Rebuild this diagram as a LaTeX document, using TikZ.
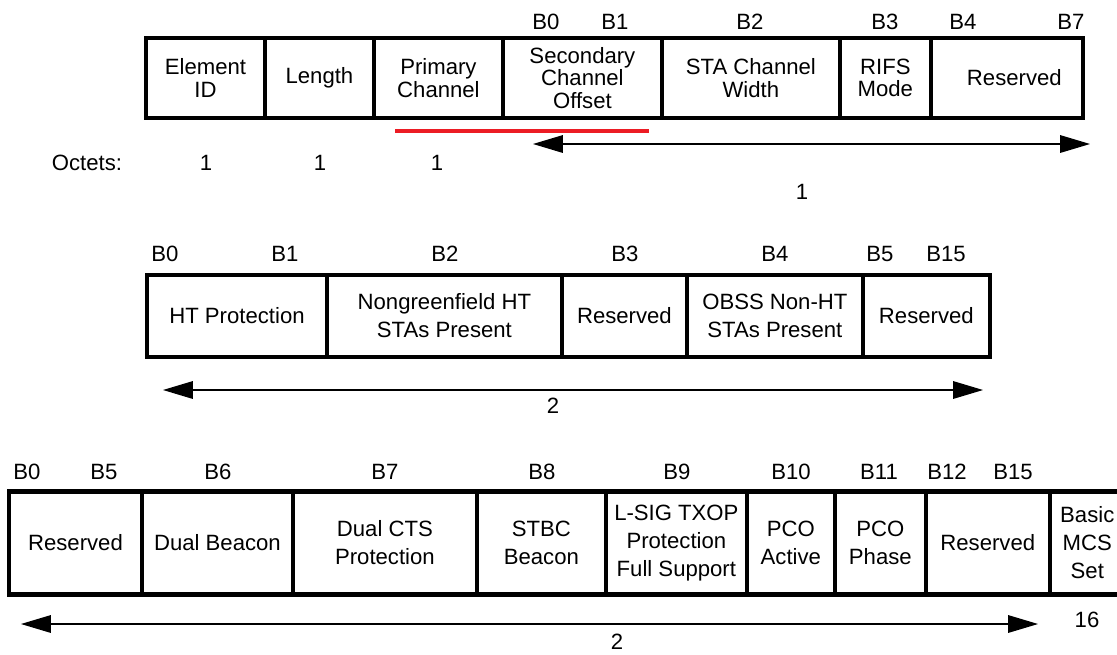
\documentclass[tikz,border=0pt]{standalone}
\usepackage{fontspec}
\setmainfont{Liberation Sans}
\usepackage{xcolor}
\usepackage{tikz}
\usetikzlibrary{positioning,arrows.meta}
\definecolor{markred}{RGB}{236,28,36}

\begin{document}
\begin{tikzpicture}[x=0.02cm, y=-0.02cm,
  every node/.style={font=\fontsize{12.6}{15.9}\selectfont},
  fld/.style={rectangle, draw=black, line width=2.4pt, outer sep=0pt,
              inner sep=1pt, align=center},
  rowone/.style={fld, minimum height=1.6cm, font=\fontsize{12.6}{12.7}\selectfont},
  rowtwo/.style={fld, minimum height=1.64cm},
  rowthree/.style={fld, minimum height=2.06cm},
  spanarrow/.style={{Triangle[length=17pt,width=10pt]}-{Triangle[length=17pt,width=10pt]},
                    line width=0.7pt}
]
  \clip (0,0) rectangle (1117,654);

  % HT Operation element
  \node[rowone, anchor=west, minimum width=2.38cm] (eid) at (146,78) {Element\\ID};
  \node[rowone, right=0pt of eid, minimum width=2.18cm] (len) {Length};
  \node[rowone, right=0pt of len, minimum width=2.58cm] (prim) {Primary\\Channel};
  \node[rowone, right=0pt of prim, minimum width=3.18cm] (sco) {Secondary\\Channel\\Offset};
  \node[rowone, right=0pt of sco, minimum width=3.56cm] (staw) {STA Channel\\Width};
  \node[rowone, right=0pt of staw, minimum width=1.82cm] (rifs) {RIFS\\Mode};
  \node[rowone, right=0pt of rifs, minimum width=3.04cm] (resa) {\hspace*{0.3cm}Reserved};

  \node (ab0) at (546,22) {B0};
  \node (ab1) at (615,22) {B1};
  \node (ab2) at (750,22) {B2};
  \node (ab3) at (885,22) {B3};
  \node (ab4) at (963,22) {B4};
  \node (ab7) at (1071,22) {B7};

  \node (oct) at (87,163) {Octets:};
  \node (octa) at (206,163) {1};
  \node (octb) at (320,163) {1};
  \node (octc) at (437,163) {1};
  \node (octd) at (802,192) {1};

  \coordinate (redl) at (395,131);
  \coordinate (redr) at (649,131);
  \draw[markred, line width=2.2pt] (redl) -- (redr);

  \coordinate (spal) at (533,144);
  \coordinate (spar) at (1090,144);
  \draw[spanarrow] (spal) -- (spar);

  % second row
  \node[rowtwo, anchor=west, minimum width=3.60cm] (htp) at (147,316) {HT Protection};
  \node[rowtwo, right=0pt of htp, minimum width=4.70cm] (ngf) {Nongreenfield HT\\STAs Present};
  \node[rowtwo, right=0pt of ngf, minimum width=2.50cm] (resb) {Reserved};
  \node[rowtwo, right=0pt of resb, minimum width=3.52cm] (obss) {OBSS Non-HT\\STAs Present};
  \node[rowtwo, right=0pt of obss, minimum width=2.54cm] (resc) {Reserved};

  \node (bb0) at (165,254) {B0};
  \node (bb1) at (285,254) {B1};
  \node (bb2) at (445,254) {B2};
  \node (bb3) at (625,254) {B3};
  \node (bb4) at (775,254) {B4};
  \node (bb5) at (880,254) {B5};
  \node (bb15) at (946,254) {B15};

  \coordinate (spbl) at (163,390);
  \coordinate (spbr) at (983,390);
  \draw[spanarrow] (spbl) -- (spbr);
  \node (twoa) at (553,406) {2};

  % third row
  \node[rowthree, anchor=west, minimum width=2.66cm] (resd) at (9,543) {Reserved};
  \node[rowthree, right=0pt of resd, minimum width=3.02cm] (dbc) {Dual Beacon};
  \node[rowthree, right=0pt of dbc, minimum width=3.68cm] (dcts) {Dual CTS\\Protection};
  \node[rowthree, right=0pt of dcts, minimum width=2.58cm] (stbc) {STBC\\Beacon};
  \node[rowthree, right=0pt of stbc, minimum width=2.82cm] (lsig) {L-SIG TXOP\\Protection\\Full Support};
  \node[rowthree, right=0pt of lsig, minimum width=1.76cm] (pcoa) {PCO\\Active};
  \node[rowthree, right=0pt of pcoa, minimum width=1.82cm] (pcop) {PCO\\Phase};
  \node[rowthree, right=0pt of pcop, minimum width=2.48cm] (rese) {Reserved};
  \node[rowthree, right=0pt of rese, minimum width=1.50cm] (mcs) {Basic\\MCS\\Set};

  \node (cb0) at (27,472) {B0};
  \node (cb5) at (104,472) {B5};
  \node (cb6) at (218,472) {B6};
  \node (cb7) at (385,472) {B7};
  \node (cb8) at (542,472) {B8};
  \node (cb9) at (677,472) {B9};
  \node (cb10) at (791,472) {B10};
  \node (cb11) at (879,472) {B11};
  \node (cb12) at (947,472) {B12};
  \node (cb15) at (1013,472) {B15};

  \coordinate (spcl) at (21,624);
  \coordinate (spcr) at (1038,624);
  \draw[spanarrow] (spcl) -- (spcr);
  \node (twob) at (617,642) {2};
  \node (sixt) at (1087,620) {16};
\end{tikzpicture}
\end{document}
